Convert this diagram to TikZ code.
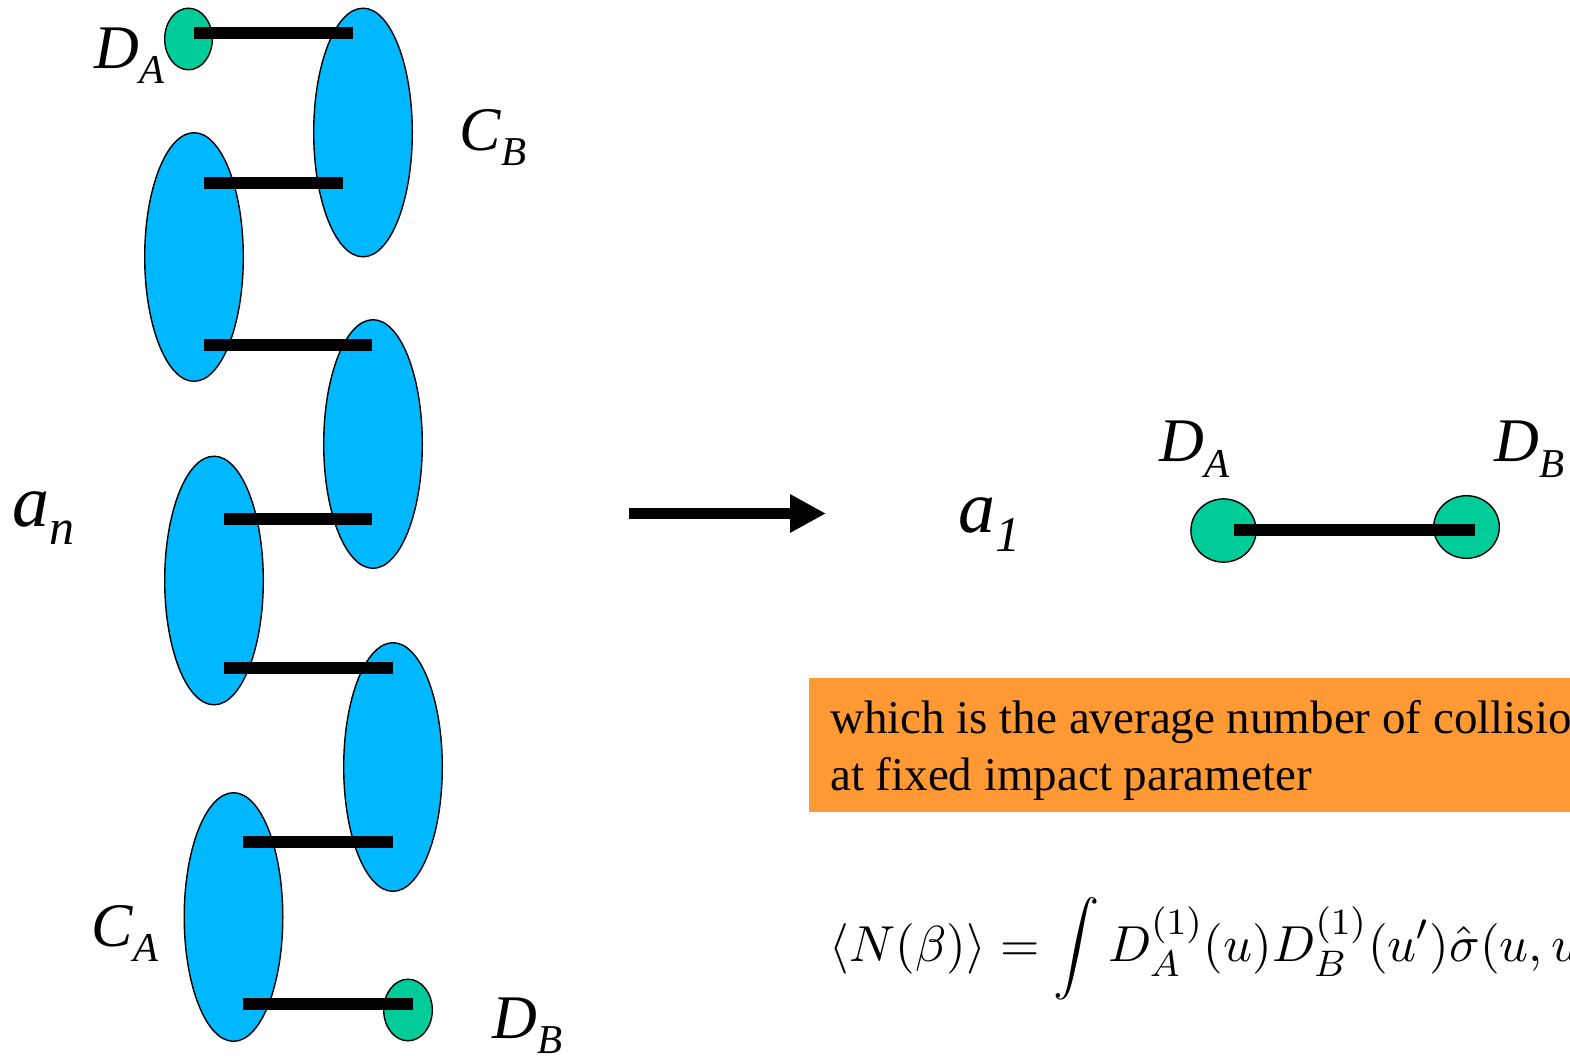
\RequirePackage{fix-cm}
\documentclass[tikz,border=0pt]{standalone}
\usepackage{fontspec}
\setmainfont{Liberation Serif}
\usetikzlibrary{shapes.geometric,arrows.meta}
\definecolor{cblue}{RGB}{0,184,255}
\definecolor{cgreen}{RGB}{0,204,153}
\definecolor{corange}{RGB}{255,153,51}
\newcommand\lsub[2]{#1\raisebox{-15.5pt}{\fontsize{41}{41}\selectfont #2}}
\newcommand\asub[2]{#1\raisebox{-18.5pt}{\fontsize{50}{50}\selectfont #2}}
\begin{document}
\begin{tikzpicture}[x=1pt,y=-1pt,
  blob/.style={ellipse, draw=black, line width=1.4pt, fill=cblue, minimum width=98.6pt, minimum height=248.6pt, inner sep=0pt},
  dot/.style={ellipse, draw=black, line width=1.4pt, fill=cgreen, inner sep=0pt},
  bar/.style={line width=12pt, line cap=butt},
  bigarrow/.style={line width=11.7pt, -{Triangle[length=36pt, width=36pt]}},
  lbl/.style={inner sep=0pt, anchor=base west, font=\fontsize{62}{62}\selectfont\itshape},
  albl/.style={inner sep=0pt, anchor=base west, font=\fontsize{74}{74}\selectfont\itshape}]
\useasboundingbox (0,0) rectangle (1570,1055);
\clip (0,0) rectangle (1570,1055);
% chain of blobs
\node[blob] (e1) at (363,132.5) {};
\node[blob] (e2) at (194,257) {};
\node[blob] (e3) at (373,444) {};
\node[blob] (e4) at (214,580.5) {};
\node[blob] (e5) at (393,767) {};
\node[blob] (e6) at (233.5,917) {};
\node[dot, minimum width=47.6pt, minimum height=61.6pt] (g1) at (188.5,39) {};
\node[dot, minimum width=48.6pt, minimum height=61.6pt] (g2) at (408,1010) {};
% bar end points
\coordinate (b1a) at (193.5,33);  \coordinate (b1b) at (353,33);
\coordinate (b2a) at (204,183);   \coordinate (b2b) at (343,183);
\coordinate (b3a) at (204,345);   \coordinate (b3b) at (372,345);
\coordinate (b4a) at (224,519);   \coordinate (b4b) at (372,519);
\coordinate (b5a) at (224,668);   \coordinate (b5b) at (393,668);
\coordinate (b6a) at (243,842);   \coordinate (b6b) at (393,842);
\coordinate (b7a) at (243,1004);  \coordinate (b7b) at (413,1004);
\draw[bar] (b1a) -- (b1b);
\draw[bar] (b2a) -- (b2b);
\draw[bar] (b3a) -- (b3b);
\draw[bar] (b4a) -- (b4b);
\draw[bar] (b5a) -- (b5b);
\draw[bar] (b6a) -- (b6b);
\draw[bar] (b7a) -- (b7b);
% labels left
\node[lbl] (lda) at (94.5,68) {\lsub{D}{A}};
\node[lbl] (lcb) at (459.5,150) {\lsub{C}{B}};
\node[lbl] (lca) at (91.6,946) {\lsub{C}{A}};
\node[lbl] (ldb) at (492.7,1038) {\lsub{D}{B}};
\node[albl] (lan) at (12.7,526) {\asub{a}{n}};
% arrow
\coordinate (arA) at (629,513.5);
\coordinate (arB) at (826,513.5);
\draw[bigarrow] (arA) -- (arB);
% right pair
\node[albl] (la1) at (958.3,532.5) {\asub{a}{1}};
\node[dot, minimum width=65.2pt, minimum height=63.2pt] (g3) at (1223.5,530.5) {};
\node[dot, minimum width=65.6pt, minimum height=62.6pt] (g4) at (1466.5,527) {};
\coordinate (rba) at (1233.5,530);
\coordinate (rbb) at (1475,530);
\draw[bar] (rba) -- (rbb);
\node[lbl] (rda) at (1159.4,461.5) {\lsub{D}{A}};
\node[lbl] (rdb) at (1494.4,461.5) {\lsub{D}{B}};
% orange box
\node[fill=corange, inner sep=0pt, minimum width=800pt, minimum height=134pt, anchor=north west] (box) at (809,678) {};
\node[inner sep=0pt, anchor=base west, align=left, font=\fontsize{47}{57}\selectfont] (boxtxt) at (830,790)
  {which is the average number of collisions\\at fixed impact parameter};
% formula
\node[inner sep=0pt, anchor=base west, scale=4.62, font=\fontsize{10.95}{13}\selectfont] (eq) at (829,961)
  {$\displaystyle \langle N(\beta)\rangle = \int D_A^{(1)}(u)D_B^{(1)}(u')\hat{\sigma}(u,u')$};
\end{tikzpicture}
\end{document}
